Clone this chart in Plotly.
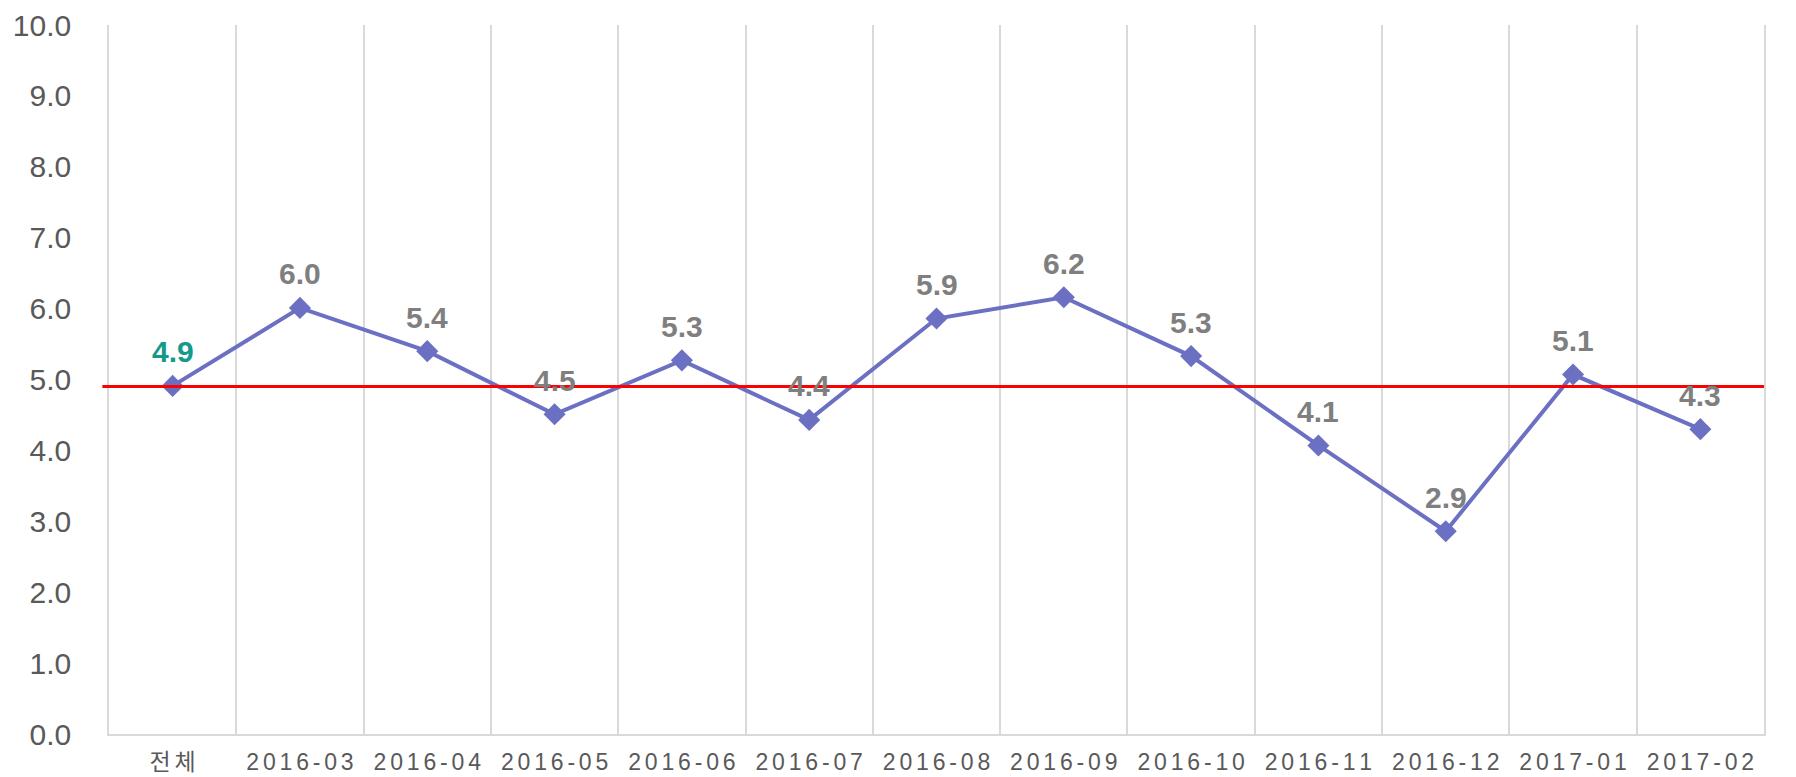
import plotly.graph_objects as go

categories = ["전체", "2016-03", "2016-04", "2016-05", "2016-06", "2016-07", "2016-08",
              "2016-09", "2016-10", "2016-11", "2016-12", "2017-01", "2017-02"]
values = [4.9, 6.0, 5.4, 4.5, 5.3, 4.4, 5.9, 6.2, 5.3, 4.1, 2.9, 5.1, 4.3]
plot_values = [4.91, 6.01, 5.40, 4.51, 5.27, 4.43, 5.86, 6.16, 5.33, 4.07, 2.86, 5.07, 4.30]
average = 4.9
y_ticks = [0, 1, 2, 3, 4, 5, 6, 7, 8, 9, 10]

# Excel-like letter spacing on the category labels
tick_text = ["\u2006".join(c) for c in categories]
label_colors = ["#15998a"] + ["#7f7f7f"] * (len(categories) - 1)

fig = go.Figure()

fig.add_trace(
    go.Scatter(
        x=categories,
        y=plot_values,
        mode="lines+markers",
        line=dict(color="#6b70c2", width=4),
        marker=dict(symbol="diamond", size=17, color="#6b70c2"),
        hoverinfo="x+y",
    )
)

# data labels sit a bit higher above the markers than plotly's "top center"
for cat, yv, v, col in zip(categories, plot_values, values, label_colors):
    fig.add_annotation(
        x=cat, y=yv, text=f"{v:.1f}",
        showarrow=False, yanchor="middle", yshift=34,
        font=dict(family="Liberation Sans, Arial", size=30, color=col, weight="bold"),
    )

# average line
fig.add_shape(
    type="line", xref="paper", yref="y",
    x0=-0.004, x1=1, y0=average, y1=average,
    line=dict(color="#ff0000", width=3),
)

# page body has an 8px margin, so the figure is a bit smaller and shifted
fig.update_layout(
    width=1788,
    height=769,
    margin=dict(l=101, r=32, t=17, b=43),
    plot_bgcolor="white",
    paper_bgcolor="white",
    showlegend=False,
    font=dict(family="Liberation Sans, Arial", color="#595959"),
    xaxis=dict(
        type="category",
        range=[-0.5, len(categories) - 0.5],
        tickmode="array",
        tickvals=categories,
        ticktext=tick_text,
        tickson="boundaries",
        ticks="",
        showgrid=True,
        gridcolor="#d9d9d9",
        gridwidth=1.5,
        showline=True,
        linecolor="#d9d9d9",
        linewidth=1.5,
        tickfont=dict(family="Liberation Sans, Noto Sans CJK KR", size=23, color="#595959"),
        ticklabelstandoff=7,
        automargin=False,
    ),
    yaxis=dict(
        range=[0, 10],
        tickvals=y_ticks,
        tickformat=".1f",
        showgrid=False,
        zeroline=False,
        showline=True,
        mirror=True,
        linecolor="#d9d9d9",
        linewidth=1.5,
        ticks="",
        tickfont=dict(family="Liberation Sans, Arial", size=30, color="#595959"),
        ticklabelstandoff=30,
        ticklabeloverflow="allow",
        automargin=False,
    ),
)

fig.write_html("out.html")
